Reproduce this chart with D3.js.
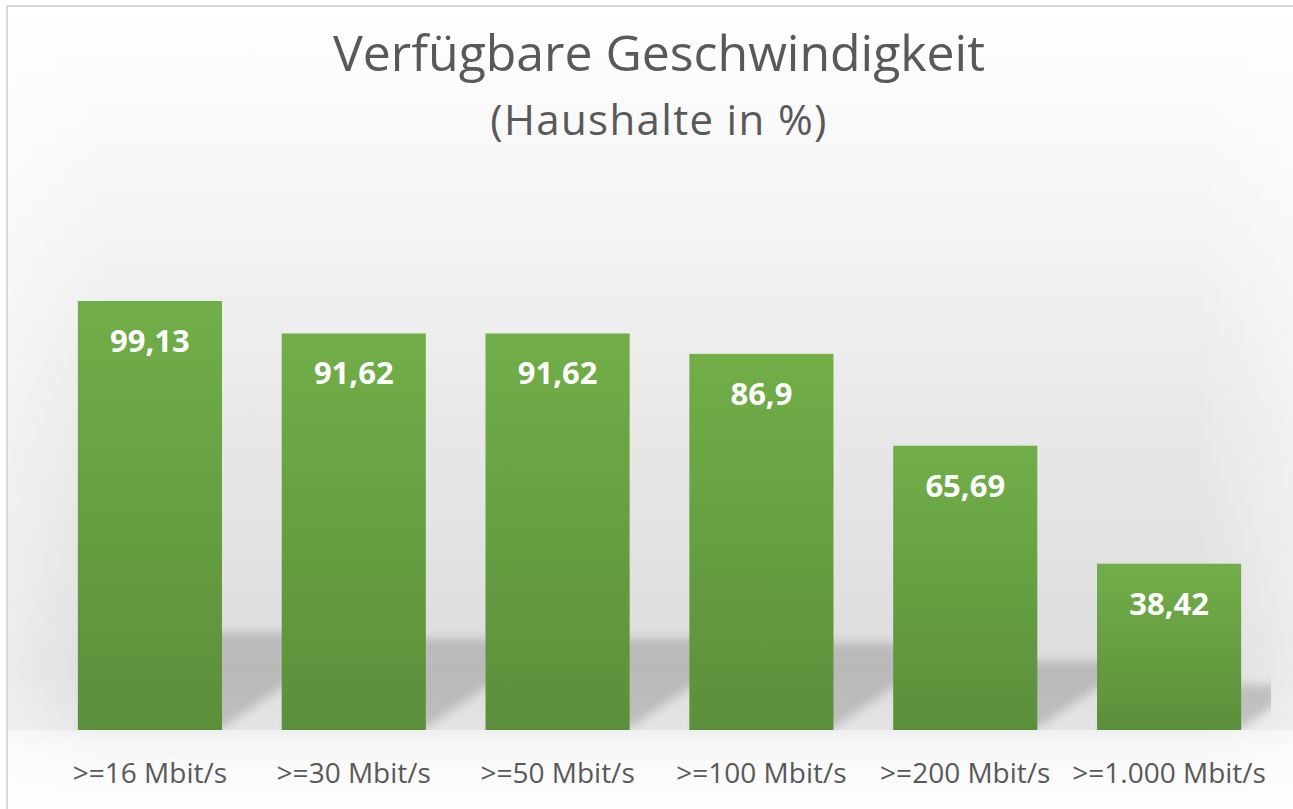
<!DOCTYPE html>
<html>
<head>
<meta charset="utf-8">
<script src="https://cdn.jsdelivr.net/npm/d3@7"></script>
<style>
  body { margin: 0; background: #ffffff; }
  svg { display: block; }
</style>
</head>
<body>
<div id="chart"></div>
<script>
// Verfügbare Geschwindigkeit - Haushalte in %
const categories = ['>=16 Mbit/s', '>=30 Mbit/s', '>=50 Mbit/s', '>=100 Mbit/s', '>=200 Mbit/s', '>=1.000 Mbit/s'];
const values = [99.13, 91.62, 91.62, 86.9, 65.69, 38.42];
const valueLabels = ['99,13', '91,62', '91,62', '86,9', '65,69', '38,42'];
const titleText = 'Verfügbare Geschwindigkeit';
const subtitleText = '(Haushalte in %)';

const width = 1293;
const height = 809;
const baseY = 730;
const font = "'Open Sans', 'DejaVu Sans', sans-serif";

const svg = d3.select('#chart').append('svg')
  .attr('width', width)
  .attr('height', height);

const defs = svg.append('defs');

// background gradient (white top -> grey towards the floor)
const bg = defs.append('linearGradient')
  .attr('id', 'bg-grad')
  .attr('x1', 0).attr('y1', 0).attr('x2', 0).attr('y2', 1);
bg.append('stop').attr('offset', '0%').attr('stop-color', '#ffffff');
bg.append('stop').attr('offset', '25%').attr('stop-color', '#f6f6f6');
bg.append('stop').attr('offset', '55%').attr('stop-color', '#e9e9e9');
bg.append('stop').attr('offset', '92%').attr('stop-color', '#dcdcdc');
bg.append('stop').attr('offset', '100%').attr('stop-color', '#e4e4e4');

const floorGrad = defs.append('linearGradient')
  .attr('id', 'floor-grad')
  .attr('x1', 0).attr('y1', 0).attr('x2', 0).attr('y2', 1);
floorGrad.append('stop').attr('offset', '0%').attr('stop-color', '#efefef');
floorGrad.append('stop').attr('offset', '20%').attr('stop-color', '#f7f7f7');
floorGrad.append('stop').attr('offset', '100%').attr('stop-color', '#ffffff');

// soften the sides a bit
const sideGrad = defs.append('linearGradient')
  .attr('id', 'side-grad')
  .attr('x1', 0).attr('y1', 0).attr('x2', 1).attr('y2', 0);
sideGrad.append('stop').attr('offset', '0%').attr('stop-color', '#ffffff').attr('stop-opacity', 0.45);
sideGrad.append('stop').attr('offset', '8%').attr('stop-color', '#ffffff').attr('stop-opacity', 0);
sideGrad.append('stop').attr('offset', '92%').attr('stop-color', '#ffffff').attr('stop-opacity', 0);
sideGrad.append('stop').attr('offset', '100%').attr('stop-color', '#ffffff').attr('stop-opacity', 0.45);

const barGrad = defs.append('linearGradient')
  .attr('id', 'bar-grad')
  .attr('x1', 0).attr('y1', 0).attr('x2', 0).attr('y2', 1);
barGrad.append('stop').attr('offset', '0%').attr('stop-color', '#71ae48');
barGrad.append('stop').attr('offset', '100%').attr('stop-color', '#5b8f3b');

const blur = defs.append('filter')
  .attr('id', 'shadow-blur')
  .attr('x', '-20%').attr('y', '-20%').attr('width', '140%').attr('height', '140%');
blur.append('feGaussianBlur').attr('stdDeviation', 5);

// frame + background
svg.append('rect')
  .attr('x', 8).attr('y', 7)
  .attr('width', width).attr('height', baseY - 7)
  .attr('fill', 'url(#bg-grad)');
svg.append('rect')
  .attr('x', 8).attr('y', baseY)
  .attr('width', width).attr('height', height - baseY)
  .attr('fill', 'url(#floor-grad)');
svg.append('rect')
  .attr('x', 8).attr('y', 7)
  .attr('width', width).attr('height', height)
  .attr('fill', 'url(#side-grad)');
svg.append('rect')
  .attr('x', 7).attr('y', 6)
  .attr('width', width + 20).attr('height', height + 20)
  .attr('fill', 'none')
  .attr('stroke', '#d9d9d9')
  .attr('stroke-width', 2);

// scales
const x = d3.scaleBand()
  .domain(categories)
  .range([48, 1271])
  .paddingInner(0.293)
  .paddingOuter(0.1465);

const y = d3.scaleLinear()
  .domain([0, 120])
  .range([baseY, baseY - 120 * 4.328]);

// perspective shadows behind the bars
defs.append('clipPath').attr('id', 'plot-clip')
  .append('rect')
  .attr('x', x.range()[0]).attr('y', y(120))
  .attr('width', x.range()[1] - x.range()[0])
  .attr('height', baseY - y(120));

const shadowG = svg.append('g').attr('clip-path', 'url(#plot-clip)');
shadowG.selectAll('.shadow')
  .data(categories)
  .enter().append('path')
  .attr('class', 'shadow')
  .attr('d', (d, i) => {
    const x0 = x(d);
    const x1 = x0 + x.bandwidth();
    const h = (baseY - y(values[i])) * 0.2 + 12;
    const dx = h * 1.43;
    return `M${x0},${baseY - 2} L${x1},${baseY - 2} L${x1 + dx},${baseY - h} L${x0 + dx},${baseY - h} Z`;
  })
  .attr('fill', '#909090')
  .attr('opacity', 0.45)
  .attr('filter', 'url(#shadow-blur)');

// bars
svg.selectAll('.bar')
  .data(categories)
  .enter().append('rect')
  .attr('class', 'bar')
  .attr('x', d => x(d))
  .attr('y', (d, i) => y(values[i]))
  .attr('width', x.bandwidth())
  .attr('height', (d, i) => baseY - y(values[i]))
  .attr('fill', 'url(#bar-grad)');

// value labels
svg.selectAll('.value-label')
  .data(categories)
  .enter().append('text')
  .attr('class', 'value-label')
  .attr('x', d => x(d) + x.bandwidth() / 2)
  .attr('y', (d, i) => y(values[i]) + 51)
  .attr('text-anchor', 'middle')
  .style('font-family', font)
  .style('font-size', '31px')
  .style('font-weight', 'bold')
  .style('fill', '#ffffff')
  .text((d, i) => valueLabels[i]);

// category axis labels
const xAxis = d3.axisBottom(x).tickSize(0).tickPadding(0);
const axisG = svg.append('g')
  .attr('transform', `translate(0,${baseY})`)
  .call(xAxis);
axisG.select('.domain').remove();
axisG.selectAll('text')
  .attr('dy', 0)
  .attr('y', 53)
  .style('font-family', font)
  .style('font-size', '28px')
  .style('fill', '#595959');

// titles
function fitText(sel, target) {
  const node = sel.node();
  const w = node.getComputedTextLength();
  const n = sel.text().length;
  sel.style('letter-spacing', ((target - w) / (n - 1)) + 'px');
}

const title = svg.append('text')
  .attr('x', 659)
  .attr('y', 71)
  .attr('text-anchor', 'middle')
  .style('font-family', font)
  .style('font-size', '50px')
  .style('fill', '#595959')
  .text(titleText);
fitText(title, 652);

const subtitle = svg.append('text')
  .attr('x', 659)
  .attr('y', 135)
  .attr('text-anchor', 'middle')
  .style('font-family', font)
  .style('font-size', '42px')
  .style('fill', '#595959')
  .text(subtitleText);
fitText(subtitle, 336);
</script>
</body>
</html>
